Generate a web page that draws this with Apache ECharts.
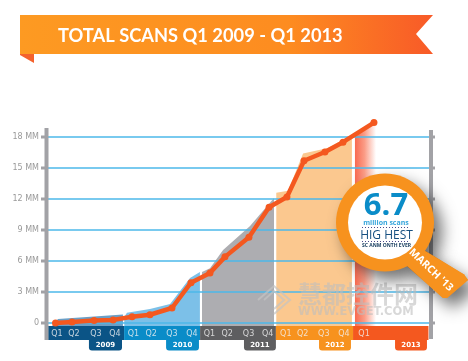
<!DOCTYPE html>
<html>
<head>
<meta charset="utf-8">
<style>html,body{margin:0;padding:0;background:#fff}#c{width:468px;height:361px}</style>
<script src="https://cdn.jsdelivr.net/npm/echarts@6/dist/echarts.min.js"></script>
</head>
<body>
<div id="c"></div>
<script>
// ---- data ----
const titleText = 'TOTAL SCANS Q1 2009 - Q1 2013';
const quarterNames = ['Q1','Q2','Q3','Q4','Q1','Q2','Q3','Q4','Q1','Q2','Q3','Q4','Q1','Q2','Q3','Q4','Q1'];
const quarterLabelPos = [0.08,0.97,2.13,3.13,4.1,5.03,6.13,7.18,8.1,9.03,10.16,11.17,12.12,13.01,14.12,15.18,16.24];
const quarterPointPos = [0,0.87,2.03,3.03,4.03,4.97,6.13,7.13,8.13,8.92,10.18,11.24,12.18,13.08,14.18,15.13,16.76];
const totalScans = [0,0.1,0.24,0.3,0.6,0.8,1.45,3.9,4.85,6.4,8.3,11.2,12.2,15.7,16.55,17.5,19.4];
const tickValues = [0,3,6,9,12,15,18];
const tickLabels = ['0','3 MM','6 MM','9 MM','12 MM','15 MM','18 MM'];
const years = ['2009','2010','2011','2012','2013'];
const yearColors = ['#0b5486','#0a8cc8','#5e5e60','#f7921e','#f4581f'];
const yearBandEdges = [-0.39,3.61,7.61,11.6,15.66,19.63];
const yearTabStart = [1.76,5.82,9.92,13.87,17.87];
const yearTabEnd = [3.5,7.55,11.6,15.55,19.55];
const area2009 = [[-0.18,-0.29],[0.13,0.39],[2.03,0.63],[3.55,0.82]];
const area2010 = [[3.62,0.58],[3.76,0.99],[4.97,1.36],[6.03,1.84],[7.08,4.36],[7.6,4.94]];
const area2011 = [[7.71,4.94],[8.13,5.3],[8.82,7.07],[10.24,9.38],[11.5,12.1]];
const area2012 = [[11.62,12.6],[12.24,12.8],[13.03,16.4],[14.29,16.9],[15.6,18.2]];
const area2013 = [[15.76,18.4],[16.87,19.4]];

const bandTop = -0.29, bandBottom = -1.65, tabBottom = -2.66, qLabelY = -1.03, tabLabelY = -2.15;

const chart = echarts.init(document.getElementById('c'), null, {renderer:'canvas'});

function areaSeries(data, fill){
  return {type:'line', data, symbol:'none', silent:true, z:1, animation:false,
    lineStyle:{width:0}, areaStyle:{color:fill, opacity:1, origin:bandTop}};
}
const hGrad = (stops)=>({type:'linear',x:0,y:0,x2:1,y2:0,colorStops:stops});

const glassShadow = {shadowBlur:16, shadowColor:'rgba(0,0,0,0.55)', shadowOffsetX:8, shadowOffsetY:9};
const handlePts = [[418,246.5],[464,274.5],[468,280],[447,298],[443,298],[407,266]];

const graphics = [
  // left and right spines
  {type:'rect', shape:{x:44.5,y:128,width:4,height:212}, style:{fill:'#a2a2a6'}, z:6},
  {type:'rect', shape:{x:429,y:130,width:4,height:209}, style:{fill:'#a2a2a6'}, z:6},
  // ribbon
  {type:'polygon', shape:{points:[[20,48],[34,54],[34,63],[20,55]]}, style:{fill:'#f4622c'}, z:20},
  {type:'polygon', shape:{points:[[20,15],[433,15],[416,34],[433,54],[20,54]]},
    style:{fill:hGrad([{offset:0,color:'#fd9a22'},{offset:0.65,color:'#fd8c20'},{offset:1,color:'#f85a28'}])}, z:21},
  {type:'text', x:58, y:36, style:{text:titleText, fill:'#fff', font:'bold 18.3px Lato', textVerticalAlign:'middle'}, z:22},
  // watermark
  {type:'polyline', shape:{points:[[258,300],[274,286],[290,300],[274,314]]}, style:{fill:'none',stroke:'rgba(195,195,195,0.7)',lineWidth:2}, z:30},
  {type:'polyline', shape:{points:[[264,300],[274,291],[284,300],[274,309]]}, style:{fill:'none',stroke:'rgba(195,195,195,0.7)',lineWidth:2}, z:30},
  {type:'text', x:298, y:282, style:{text:'慧都控件网', fill:'rgba(190,190,190,0.6)', font:'bold 24px "Noto Sans CJK SC"'}, z:30},
  {type:'text', x:298, y:306, style:{text:'WWW.EVGET.COM', fill:'rgba(190,190,190,0.6)', font:'bold 11.5px "DejaVu Sans"'}, z:30},
  // magnifier
  {type:'polygon', shape:{points:handlePts}, style:Object.assign({fill:'#f7921e'},glassShadow), z:40},
  {type:'circle', shape:{cx:385,cy:222.5,r:49}, style:Object.assign({fill:'#f7921e'},glassShadow), z:40},
  {type:'polygon', shape:{points:handlePts}, style:{fill:'#f7921e'}, z:41},
  {type:'circle', shape:{cx:385,cy:222.5,r:37}, style:{fill:'#fff'}, z:42},
  {type:'text', x:386, y:206, style:{text:'6.7', fill:'#0a8cc8', font:'bold 31px "Open Sans"', textAlign:'center', textVerticalAlign:'middle'}, z:43},
  {type:'text', x:386, y:222.5, style:{text:'million scans', fill:'#37a6dc', font:'bold 7px "Open Sans"', textAlign:'center', textVerticalAlign:'middle'}, z:43},
  {type:'line', shape:{x1:362,y1:227.5,x2:409,y2:227.5}, style:{stroke:'#4a4a8a',lineWidth:1,lineDash:[1,2]}, z:43},
  {type:'text', x:386.5, y:236, style:{text:'HIG HEST', fill:'#154f80', font:'12px "Open Sans"', textAlign:'center', textVerticalAlign:'middle'}, z:43},
  {type:'line', shape:{x1:362,y1:241.5,x2:409,y2:241.5}, style:{stroke:'#4a4a8a',lineWidth:1,lineDash:[1,2]}, z:43},
  {type:'text', x:386.5, y:245.5, style:{text:'SC ANM ONTH EVER', fill:'#12395c', font:'bold 5px "Open Sans"', textAlign:'center', textVerticalAlign:'middle'}, z:43},
  {type:'text', x:431, y:270, rotation:-0.76,
    style:{text:"MARCH '13", fill:'#fff', font:'bold 10.5px "Open Sans"', textAlign:'center', textVerticalAlign:'middle'}, z:43}
];

chart.setOption({
  animation:false,
  backgroundColor:'#fff',
  grid:{left:46, width:384, top:106, height:248, containLabel:false},
  xAxis:{type:'value', min:-0.5, max:19.71, show:false},
  yAxis:{
    type:'value', min:-3, max:21, interval:3, z:3, position:'left',
    axisLine:{show:false},
    axisTick:{show:false},
    axisLabel:{customValues:tickValues, margin:7, color:'#9a9a9a', fontSize:8, fontFamily:'DejaVu Sans',
      formatter:(v)=>tickLabels[tickValues.indexOf(v)]},
    splitLine:{show:true, showMinLine:false, showMaxLine:false, lineStyle:{color:'#4db8ea',width:1.5}}
  },
  series:[
    areaSeries(area2009,'#6b9fc6'),
    areaSeries(area2010,'#7cc0e8'),
    areaSeries(area2011,'#adadb1'),
    areaSeries(area2012,'#fbc88f'),
    areaSeries(area2013,hGrad([{offset:0,color:'#f86a50'},{offset:0.45,color:'#fb9c86'},{offset:1,color:'#ffffff'}])),
    {type:'custom', z:6, silent:true, animation:false,
      coordinateSystem:'cartesian2d',
      data:tickValues.map((v)=>[0,v]),
      renderItem:(params,api)=>{
        const y = api.coord([0,api.value(1)])[1];
        return {type:'group',children:[
          {type:'rect',shape:{x:41,y:y-1.5,width:5,height:3},style:{fill:'#a2a2a6'}},
          {type:'rect',shape:{x:432,y:y-1.5,width:3,height:3},style:{fill:'#a2a2a6'}}
        ]};
      }},
    {type:'custom', z:4, silent:true, animation:false,
      coordinateSystem:'cartesian2d',
      data:years.map((y,i)=>[i]),
      encode:{x:[],y:[]},
      renderItem:(params,api)=>{
        const i = api.value(0);
        const a = api.coord([yearBandEdges[i],bandTop]);
        const b = api.coord([yearBandEdges[i+1],bandBottom]);
        const t0 = api.coord([yearTabStart[i],bandBottom]);
        const t1 = api.coord([yearTabEnd[i],tabBottom]);
        const l = api.coord([(yearTabStart[i]+yearTabEnd[i])/2,tabLabelY]);
        return {type:'group',children:[
          {type:'rect',shape:{x:a[0],y:a[1],width:b[0]-a[0],height:b[1]-a[1]},style:{fill:yearColors[i]}},
          {type:'rect',shape:{x:t0[0],y:t0[1],width:t1[0]-t0[0],height:t1[1]-t0[1],r:[0,0,3,3]},style:{fill:yearColors[i]}},
          {type:'text',x:l[0],y:l[1],style:{text:years[i],fill:'#fff',font:'bold 7px "DejaVu Sans"',textAlign:'center',textVerticalAlign:'middle'}}
        ]};
      }},
    {type:'scatter', z:5, symbolSize:0, silent:true, animation:false,
      data:quarterLabelPos.map((x,i)=>[x,qLabelY,quarterNames[i]]),
      label:{show:true, position:'inside', color:'#f2f2f2', fontSize:8, fontFamily:'DejaVu Sans', formatter:(p)=>p.value[2]}},
    {type:'line', z:7, silent:true, animation:false,
      data:quarterPointPos.map((x,i)=>[x,totalScans[i]]),
      symbol:'circle', symbolSize:7, showSymbol:true,
      lineStyle:{color:'#f4581f',width:4.5,cap:'round',join:'round'},
      itemStyle:{color:'#f4581f'}}
  ],
  graphic:{elements:graphics}
});
</script>
</body>
</html>
